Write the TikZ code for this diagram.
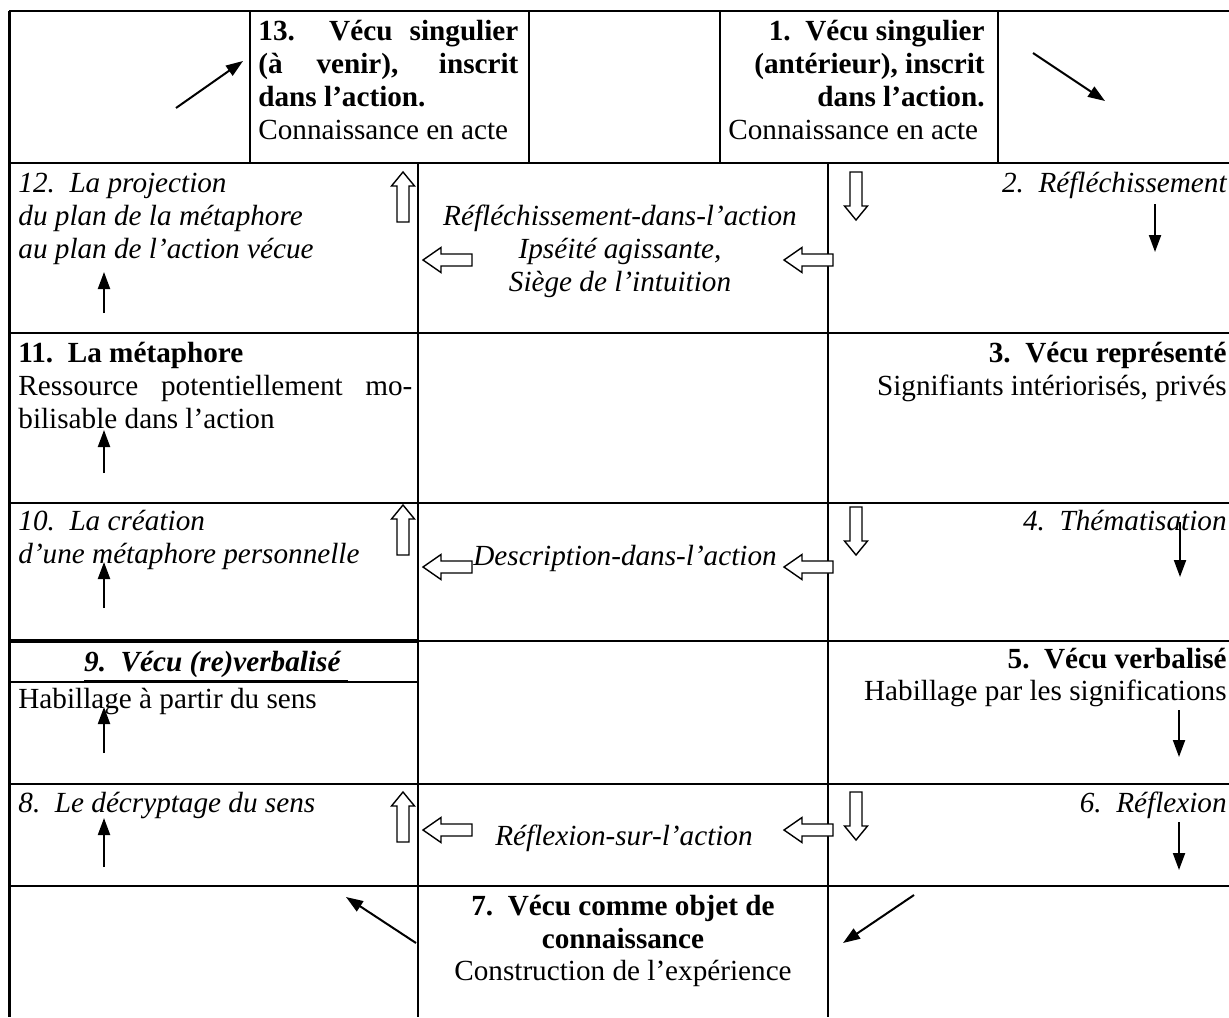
\documentclass[tikz,border=0pt]{standalone}
\usepackage{fontspec}
\setmainfont{Liberation Serif}
\usetikzlibrary{arrows.meta}
\tikzset{
  bup/.pic={\path[blockarrow] (0,0) -- (11.5,14) -- (6,14) -- (6,50) -- (-6,50) -- (-6,14) -- (-11.5,14) -- cycle;},
  bdown/.pic={\path[blockarrow] (0,0) -- (11.5,-14) -- (6,-14) -- (6,-48) -- (-6,-48) -- (-6,-14) -- (-11.5,-14) -- cycle;},
  bleft/.pic={\path[blockarrow] (0,0) -- (18,-12.5) -- (18,-6) -- (49,-6) -- (49,6) -- (18,6) -- (18,12.5) -- cycle;},
}
\begin{document}
\begin{tikzpicture}[x=0.5pt,y=-0.5pt,
  gridline/.style={line width=1.1pt},
  thickline/.style={line width=1.8pt},
  txt/.style={inner sep=0pt, font=\fontsize{14.6pt}{16.5pt}\selectfont},
  lt/.style={txt,anchor=base west},
  rt/.style={txt,anchor=base east},
  ct/.style={txt,anchor=base},
  thinarrow/.style={line width=1pt,-{Triangle[length=8.5pt,width=6pt]}},
  blockarrow/.style={draw,fill=white,line width=0.7pt,line join=miter},
]
\useasboundingbox (0,0) rectangle (1229,1017);

% ---------- grid ----------
\draw[gridline] (9,11) -- (1229,11);
\draw[line width=1.5pt] (9,11) -- (9,1017);
\foreach \xx in {250,529,720,998} \draw[gridline] (\xx,11) -- (\xx,163);
\draw[gridline] (9,163) -- (1229,163);
\draw[gridline] (418,163) -- (418,1017);
\draw[gridline] (828,163) -- (828,1017);
\foreach \yy in {333,503,784,886} \draw[gridline] (9,\yy) -- (1229,\yy);
\draw[thickline] (9,641) -- (418,641);
\draw[gridline] (418,641) -- (1229,641);
\draw[gridline] (9,682) -- (418,682);

% ---------- row 1 ----------
\node[lt] (t13a) at (258,40) {\bfseries\makebox[130pt][s]{13.\ \ Vécu singulier}};
\node[lt] (t13b) at (258,73) {\bfseries\makebox[130pt][s]{(à venir), inscrit}};
\node[lt] (t13c) at (258,106) {\bfseries dans l’action.};
\node[lt] (t13d) at (258,139) {Connaissance en acte};
\node[rt] (t1a) at (985,40) {\bfseries 1.\ \ Vécu singulier};
\node[rt] (t1b) at (985,73) {\bfseries (antérieur), inscrit};
\node[rt] (t1c) at (985,106) {\bfseries dans l’action.};
\node[lt] (t1d) at (728,139) {Connaissance en acte};

% ---------- row 2 ----------
\node[lt] (t12a) at (18,192) {\itshape 12.\ \ La projection};
\node[lt] (t12b) at (18,225) {\itshape du plan de la métaphore};
\node[lt] (t12c) at (18,258) {\itshape au plan de l’action vécue};
\node[ct] (rda) at (620,225) {\itshape Réfléchissement-dans-l’action};
\node[ct] (rdb) at (620,258) {\itshape Ipséité agissante,};
\node[ct] (rdc) at (620,291) {\itshape Siège de l’intuition};
\node[rt] (t2) at (1227,192) {\itshape 2.\ \ Réfléchissement};

% ---------- row 3 ----------
\node[lt] (t11a) at (18,362) {\bfseries 11.\ \ La métaphore};
\node[lt] (t11b) at (18,395) {\makebox[197pt][s]{Ressource potentiellement mo-}};
\node[lt] (t11c) at (18,428) {bilisable dans l’action};
\node[rt] (t3a) at (1227,362) {\bfseries 3.\ \ Vécu représenté};
\node[rt] (t3b) at (1227,395) {Signifiants intériorisés, privés};

% ---------- row 4 ----------
\node[lt] (t10a) at (18,530) {\itshape 10.\ \ La création};
\node[lt] (t10b) at (18,563) {\itshape d’une métaphore personnelle};
\node[lt] (desc) at (473,565) {\itshape Description-dans-l’action};
\node[rt] (t4) at (1227,530) {\itshape 4.\ \ Thématisation};

% ---------- row 5 ----------
\node[ct] (t9a) at (216,671) {\bfseries\itshape\underline{9.\ \ Vécu (re)verbalisé\ }};
\node[lt] (t9b) at (18,708) {Habillage à partir du sens};
\node[rt] (t5a) at (1227,668) {\bfseries 5.\ \ Vécu verbalisé};
\node[rt] (t5b) at (1227,700) {Habillage par les significations};

% ---------- row 6 ----------
\node[lt] (t8) at (18,812) {\itshape 8.\ \ Le décryptage du sens};
\node[ct] (rsa) at (624,845) {\itshape Réflexion-sur-l’action};
\node[rt] (t6) at (1227,812) {\itshape 6.\ \ Réflexion};

% ---------- row 7 ----------
\node[ct] (t7a) at (623,915) {\bfseries 7.\ \ Vécu comme objet de};
\node[ct] (t7b) at (623,948) {\bfseries connaissance};
\node[ct] (t7c) at (623,980) {Construction de l’expérience};

% ---------- block arrows ----------
\foreach \yy in {172,505,792} \pic at (403,\yy) {bup};
\foreach \yy in {260,567,830} {\pic at (423,\yy) {bleft}; \pic at (784,\yy) {bleft};}
\pic at (856,220) {bdown};
\pic at (856,555) {bdown};
\pic at (856,840) {bdown};

% ---------- thin arrows ----------
\draw[thinarrow] (176,108) -- (243,61);
\draw[thinarrow] (1033,53) -- (1105,101);
\draw[thinarrow] (104,313) -- (104,272);
\draw[thinarrow] (104,473) -- (104,430);
\draw[thinarrow] (104,608) -- (104,562);
\draw[thinarrow] (104,753) -- (104,707);
\draw[thinarrow] (104,867) -- (104,818);
\draw[thinarrow] (1155,204) -- (1155,252);
\draw[thinarrow] (1180,522) -- (1180,577);
\draw[thinarrow] (1179,710) -- (1179,757);
\draw[thinarrow] (1179,822) -- (1179,870);
\draw[thinarrow] (416,943) -- (346,897);
\draw[thinarrow] (914,895) -- (843,943);
\end{tikzpicture}
\end{document}
